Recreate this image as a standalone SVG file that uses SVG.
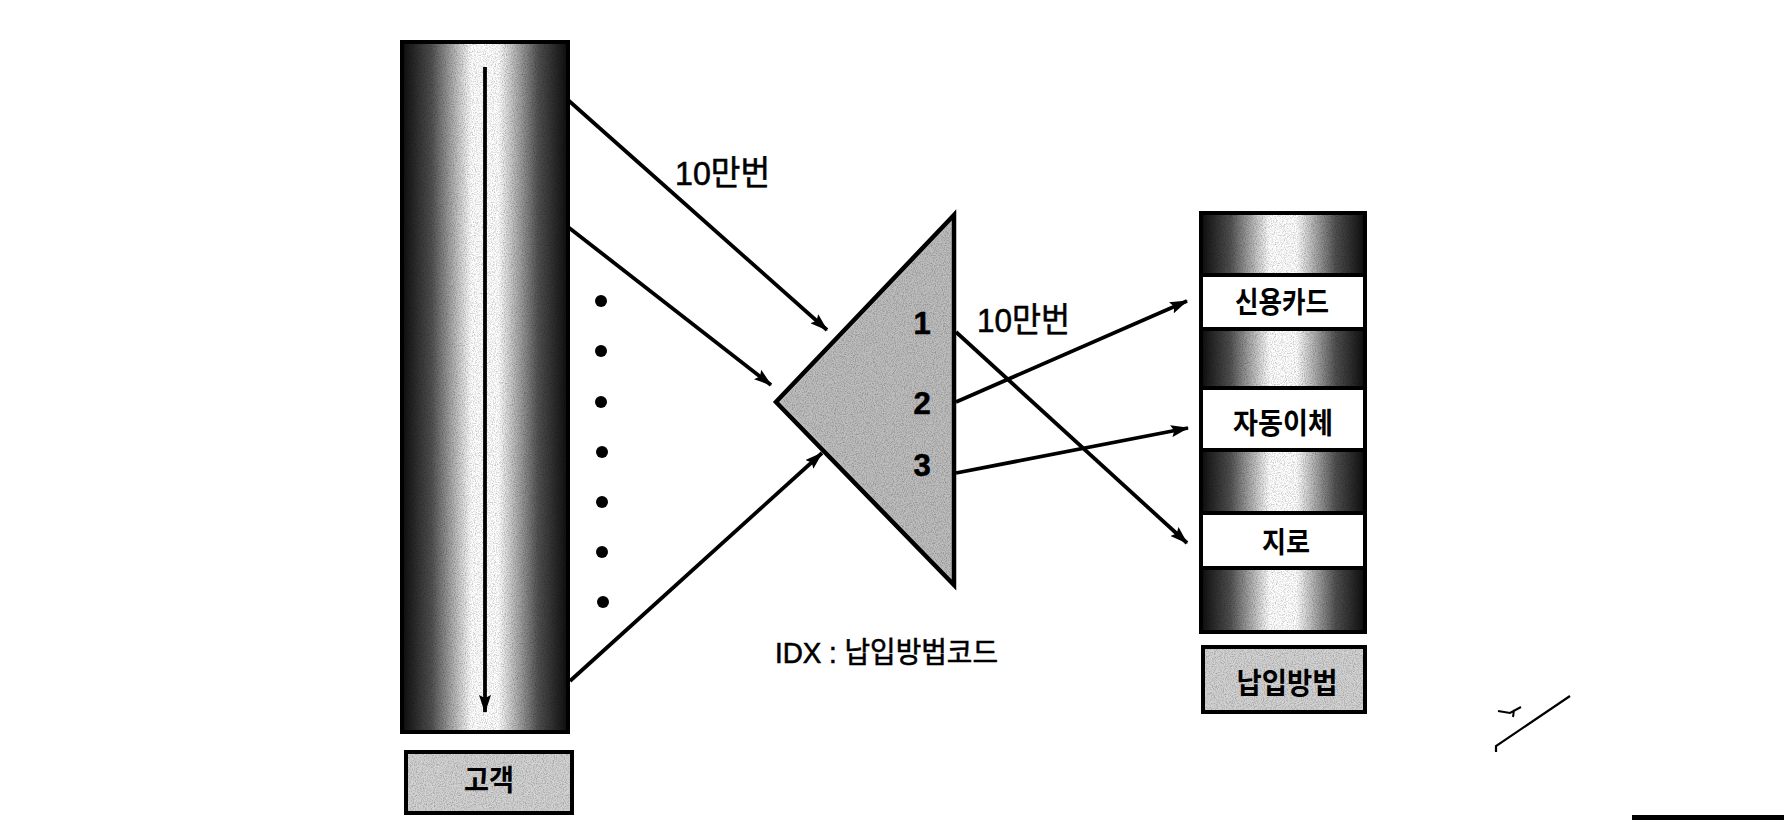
<svg xmlns="http://www.w3.org/2000/svg" width="1784" height="820" viewBox="0 0 1784 820">
  <style>
    .ln { stroke: #000; stroke-width: 3.8; fill: none; }
    .arr { marker-end: url(#ah); }
    .txt { font-family: "Liberation Sans", "Noto Sans CJK KR", sans-serif; fill: #000; stroke: #000; stroke-width: 0.6; }
    .kr { font-family: "Noto Sans CJK KR", "Liberation Sans", sans-serif; font-weight: bold; fill: #000; }
    .box { stroke: #000; stroke-width: 4; }
    .grain { filter: url(#noise); opacity: 0.25; }
  </style>
  <defs>
    <marker id="ah" viewBox="0 0 18 12" refX="17" refY="6" markerWidth="18" markerHeight="12" markerUnits="userSpaceOnUse" orient="auto">
      <path d="M0,0 L18,6 L0,12 L3,6 z" fill="#000"/>
    </marker>
    <linearGradient id="cyl" x1="0" y1="0" x2="1" y2="0">
      <stop offset="0" stop-color="#0d0d0d"/>
      <stop offset="0.18" stop-color="#505050"/>
      <stop offset="0.42" stop-color="#ffffff"/>
      <stop offset="0.58" stop-color="#ffffff"/>
      <stop offset="0.82" stop-color="#505050"/>
      <stop offset="1" stop-color="#0d0d0d"/>
    </linearGradient>
    <filter id="noise" x="0" y="0" width="100%" height="100%">
      <feTurbulence type="fractalNoise" baseFrequency="0.9" numOctaves="2" seed="3" result="n"/>
      <feColorMatrix in="n" type="matrix" values="0 0 0 0 0  0 0 0 0 0  0 0 0 0 0  -2.2 0 0 0 1.3" result="dots"/>
      <feComposite in="dots" in2="SourceAlpha" operator="in"/>
    </filter>
  </defs>

  <rect width="1784" height="820" fill="#fff"/>

  <!-- customer table -->
  <g id="customer">
    <rect x="402" y="42" width="166" height="690" fill="url(#cyl)" class="box"/>
    <rect x="404" y="44" width="162" height="686" fill="#000" class="grain"/>
    <line x1="485" y1="67" x2="485" y2="712" class="ln arr"/>
  </g>
  <g id="customer-label">
    <rect x="406" y="752" width="166" height="61" fill="#d2d2d2" class="box"/>
    <rect x="408" y="754" width="162" height="57" fill="#000" class="grain"/>
    <text x="489" y="791" class="kr" font-size="29" text-anchor="middle" textLength="50" lengthAdjust="spacingAndGlyphs">고객</text>
  </g>

  <!-- dots -->
  <g id="ellipsis" fill="#000">
    <circle cx="601" cy="301" r="6"/>
    <circle cx="601" cy="351" r="6"/>
    <circle cx="601" cy="402" r="6"/>
    <circle cx="602" cy="452" r="6"/>
    <circle cx="602" cy="502" r="6"/>
    <circle cx="602" cy="552" r="6"/>
    <circle cx="603" cy="602" r="6"/>
  </g>

  <!-- index triangle -->
  <g id="index">
    <polygon points="954,215 776,402 954,585" fill="#bdbdbd" stroke="#000" stroke-width="4.5" stroke-linejoin="miter"/>
    <polygon points="951,222 781,402 951,578" fill="#000" class="grain"/>
    <text x="922" y="334" class="txt" font-size="31" font-weight="bold" text-anchor="middle">1</text>
    <text x="922" y="414" class="txt" font-size="31" font-weight="bold" text-anchor="middle">2</text>
    <text x="922" y="476" class="txt" font-size="31" font-weight="bold" text-anchor="middle">3</text>
  </g>

  <!-- payment method table -->
  <g id="payment">
    <rect x="1201" y="213" width="164" height="419" fill="url(#cyl)" class="box"/>
    <rect x="1203" y="215" width="160" height="415" fill="#000" class="grain"/>
    <rect x="1201" y="275" width="164" height="54" fill="#fff" class="box"/>
    <rect x="1201" y="388" width="164" height="62" fill="#fff" class="box"/>
    <rect x="1201" y="513" width="164" height="55" fill="#fff" class="box"/>
    <text x="1282" y="313" class="kr" font-size="29" text-anchor="middle" textLength="94" lengthAdjust="spacingAndGlyphs">신용카드</text>
    <text x="1283" y="434" class="kr" font-size="29" text-anchor="middle" textLength="100" lengthAdjust="spacingAndGlyphs">자동이체</text>
    <text x="1286" y="553" class="kr" font-size="29" text-anchor="middle" textLength="48" lengthAdjust="spacingAndGlyphs">지로</text>
  </g>
  <g id="payment-label">
    <rect x="1203" y="647" width="162" height="65" fill="#d2d2d2" class="box"/>
    <rect x="1205" y="649" width="158" height="61" fill="#000" class="grain"/>
    <text x="1287" y="694" class="kr" font-size="29" text-anchor="middle" textLength="101" lengthAdjust="spacingAndGlyphs">납입방법</text>
  </g>

  <!-- connectors -->
  <g id="connectors">
    <line x1="568" y1="100" x2="827" y2="330" class="ln arr"/>
    <line x1="568" y1="227" x2="771" y2="385" class="ln arr"/>
    <line x1="570" y1="681" x2="822" y2="453" class="ln arr"/>
    <line x1="956" y1="332" x2="1187" y2="543" class="ln arr"/>
    <line x1="956" y1="402" x2="1187" y2="301" class="ln arr"/>
    <line x1="956" y1="473" x2="1188" y2="428" class="ln arr"/>
  </g>

  <!-- labels -->
  <g id="labels">
    <text x="675" y="185" class="txt" font-size="34" textLength="95" lengthAdjust="spacingAndGlyphs">10만번</text>
    <text x="977" y="332" class="txt" font-size="34" textLength="93" lengthAdjust="spacingAndGlyphs">10만번</text>
    <text x="775" y="663" class="txt" font-size="29" textLength="223" lengthAdjust="spacingAndGlyphs">IDX : 납입방법코드</text>
  </g>

  <!-- scan marks -->
  <g id="marks" stroke="#000" fill="none">
    <path d="M1496,752 L1496,746 L1570,696" stroke-width="2.2"/>
    <path d="M1498,711 L1510,713 L1521,707 M1514,710 L1513,717" stroke-width="2"/>
    <rect x="1632" y="815" width="152" height="5" fill="#000" stroke="none"/>
  </g>
</svg>
